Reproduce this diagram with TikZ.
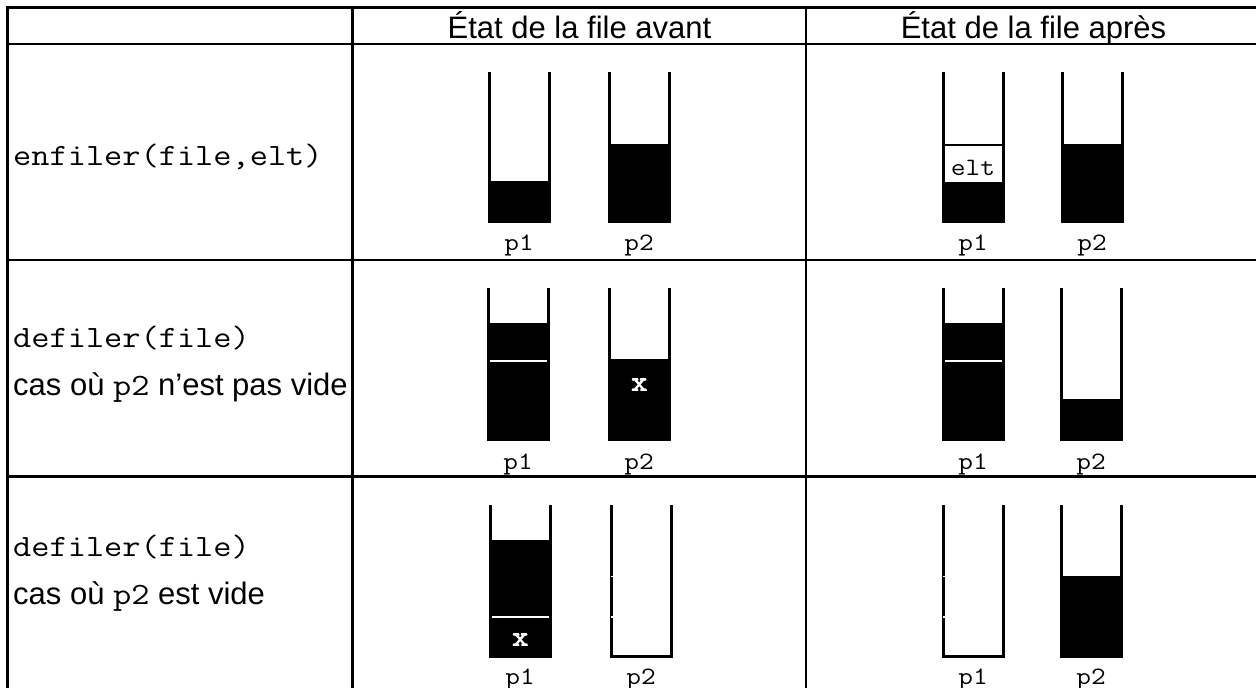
\documentclass[tikz,border=0pt]{standalone}
\usepackage{fontspec}
\setmainfont{Liberation Sans}
\newcommand\cw[1]{{\ttfamily\scalebox{1.14}[1]{#1}}}
\newcommand\fbx[1]{\leavevmode\rlap{\hspace{0.8pt}#1}\rlap{\hspace{0.4pt}\raisebox{0.4pt}{#1}}#1}
\newcommand\pilefull[4]{% cx, top, bottom, filltop
  \fill ({#1-31.5},#4) rectangle ({#1+31.5},#3);
  \draw[wall] ({#1-30},#2) -- ({#1-30},#3);
  \draw[wall] ({#1+30},#2) -- ({#1+30},#3);}
\newcommand\pileempty[3]{% cx, top, bottom
  \draw[wall,line join=miter] ({#1-30},#2) -- ({#1-30},{#3-1.5}) -- ({#1+30},{#3-1.5}) -- ({#1+30},#2);
  \fill[white] ({#1-30.3},575.5) rectangle ({#1-28.4},577);
  \fill[white] ({#1-30.3},616.3) rectangle ({#1-28.4},617.8);}
\newcommand\sepline[2]{% cx, y
  \draw[white,line width=1.5pt] ({#1-28.5},#2) -- ({#1+28.5},#2);}
\begin{document}
\begin{tikzpicture}[x=1pt,y=-1pt,
  grid/.style={line width=2.5pt},
  wall/.style={line width=3pt},
  hdr/.style={font=\fontsize{31}{37}\selectfont, anchor=base, inner sep=0pt},
  op/.style={font=\fontsize{31}{37}\selectfont, anchor=base west, inner sep=0pt},
  note/.style={font=\fontsize{31}{37}\selectfont, anchor=base west, inner sep=0pt},
  lab/.style={font=\fontsize{25}{30}\selectfont, anchor=base, inner sep=0pt},
  xlab/.style={font=\fontsize{28}{32}\selectfont, text=white, anchor=base, inner sep=0pt},
]
\useasboundingbox (0,0) rectangle (1256,688);
\clip (0,0) rectangle (1256,688);
\fill[white] (0,0) rectangle (1256,688);
% table grid
\draw[grid] (7.3,7.5) rectangle (1261,693);
\draw[grid] (7.3,44) -- (1261,44);
\draw[grid] (7.3,260) -- (1261,260);
\draw[grid] (7.3,476.7) -- (1261,476.7);
\draw[grid] (352.7,7.5) -- (352.7,693);
\draw[grid] (806,7.5) -- (806,693);
% headers
\node[hdr] (h1) at (579.5,38) {État de la file avant};
\node[hdr] (h2) at (1033.5,38) {État de la file après};
% row labels
\node[op] (r1) at (13,165) {\cw{enfiler(file,elt)}};
\node[op] (r2a) at (13,347) {\cw{defiler(file)}};
\node[note] (r2b) at (13,395) {cas où \cw{p2} n’est pas vide};
\node[op] (r3a) at (13,556) {\cw{defiler(file)}};
\node[note] (r3b) at (13,604) {cas où \cw{p2} est vide};
% ---- row 1
\pilefull{519}{72}{223}{181}
\pilefull{639}{72}{223}{144}
\pilefull{973}{72}{223}{181.7}
\draw[line width=1.5pt] (943,145) -- (1003,145);
\node[lab] (elt) at (973,175) {\cw{elt}};
\pilefull{1092}{72}{223}{144}
\node[lab] (a1p1) at (519,250) {\cw{p1}};
\node[lab] (a1p2) at (639,250) {\cw{p2}};
\node[lab] (b1p1) at (973,250) {\cw{p1}};
\node[lab] (b1p2) at (1092,250) {\cw{p2}};
% ---- row 2
\pilefull{518}{288}{441}{323}
\sepline{518}{361}
\pilefull{639}{288}{441}{359}
\node[xlab] (x1) at (639,391) {\fbx{\cw{x}}};
\pilefull{973}{288}{441}{323}
\sepline{973}{361}
\pilefull{1091}{288}{441}{399}
\node[lab] (a2p1) at (518,469) {\cw{p1}};
\node[lab] (a2p2) at (639,469) {\cw{p2}};
\node[lab] (b2p1) at (973,469) {\cw{p1}};
\node[lab] (b2p2) at (1091,469) {\cw{p2}};
% ---- row 3
\pilefull{520}{505}{658}{540}
\sepline{520}{617}
\node[xlab] (x2) at (520,646) {\fbx{\cw{x}}};
\pileempty{641}{505}{658}
\pileempty{973}{505}{658}
\pilefull{1091}{505}{658}{576}
\node[lab] (a3p1) at (520,684) {\cw{p1}};
\node[lab] (a3p2) at (641,684) {\cw{p2}};
\node[lab] (b3p1) at (973,684) {\cw{p1}};
\node[lab] (b3p2) at (1091,684) {\cw{p2}};
\end{tikzpicture}
\end{document}
